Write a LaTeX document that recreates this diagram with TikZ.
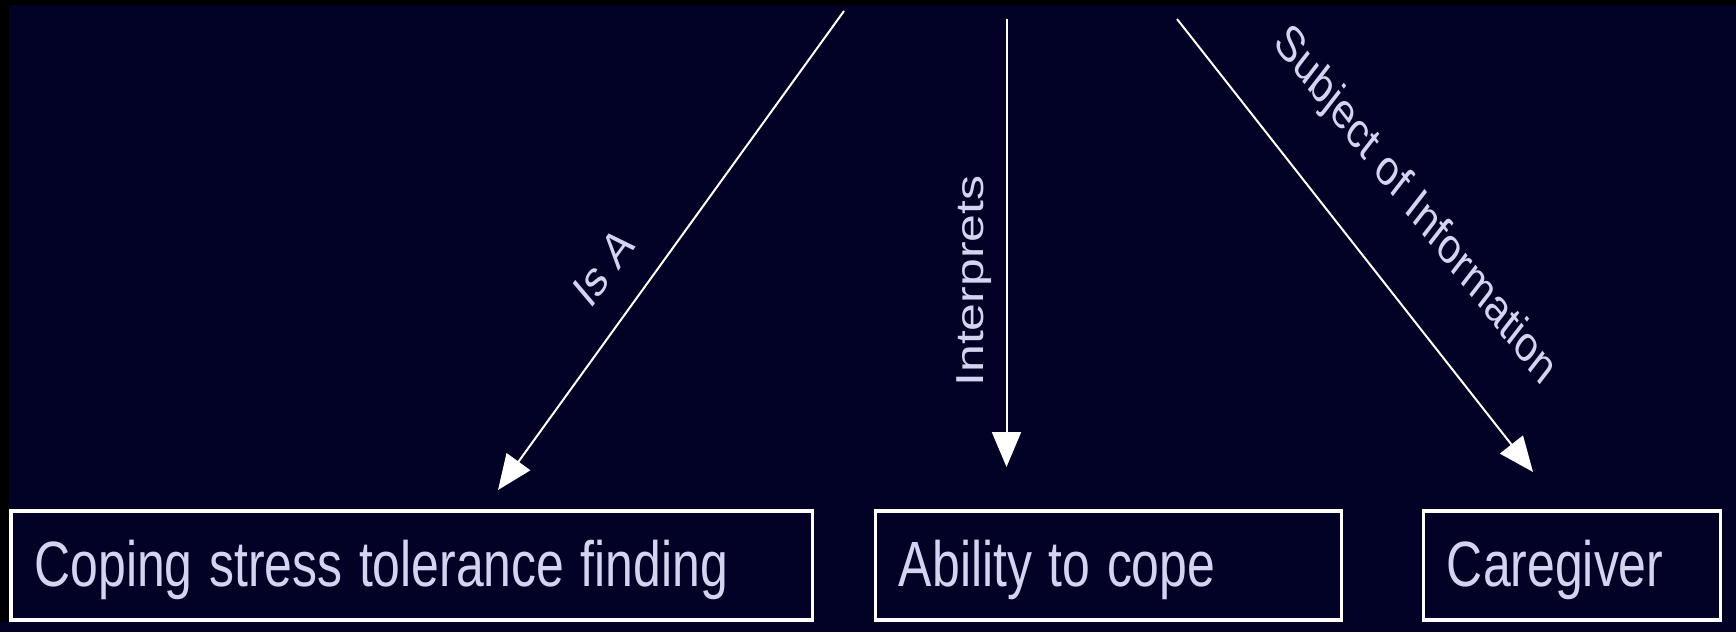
\documentclass[tikz,border=0pt]{standalone}
\usepackage{fontspec}
\setmainfont{Liberation Sans}
\usetikzlibrary{arrows.meta}
\definecolor{navy}{RGB}{2,1,38}
\definecolor{lav}{RGB}{212,212,240}
\begin{document}
\begin{tikzpicture}[x={(1.282051pt,0)}, y={(0,-1pt)}, xscale=0.78,
  every node/.style={transform shape},
  box/.style={draw=white, line width=3.6pt, outer sep=0pt, inner xsep=30.1pt, inner ysep=0pt,
    minimum height=109pt, anchor=north west, align=left, text height=50pt, text depth=8pt,
    text=lav, font=\fontsize{64}{70}\selectfont},
  lbl/.style={text=lav, font=\fontsize{50}{56}\selectfont, inner sep=0pt, anchor=base},
  conn/.style={draw=white, line width=2pt, -{Triangle[length=35pt,width=29pt]}}]
  % background and frame strips
  \path[use as bounding box, fill=navy] (0,0) rectangle (1736,632);
  \fill[black] (0,0) rectangle (1736,5);
  \fill[black] (0,0) rectangle (9,622);
  % boxes
  \node[box, text width=967.4pt] (b1) at (11,511) {Coping stress tolerance finding};
  \node[box, text width=537.2pt] (b2) at (875.5,511) {Ability to cope};
  \node[box, text width=320.6pt] (b3) at (1423.5,511) {Caregiver};
  % connector ends
  \coordinate (s1) at (844,11);
  \coordinate (t1) at (498,490);
  \coordinate (s2) at (1006.5,19);
  \coordinate (t2) at (1006.5,467);
  \coordinate (s3) at (1177,19);
  \coordinate (t3) at (1533,472);
  % connectors with labels
  \draw[conn] (s1) -- (t1) node[lbl, rotate=47.2, at={(613,279)}] (l1) {Is A};
  \draw[conn] (s2) -- (t2) node[lbl, rotate=90, at={(983,281)}] (l2) {Interprets};
  \draw[conn] (s3) -- (t3) node[lbl, rotate=-44.8, at={(1407.5,215.5)}] (l3) {Subject of Information};
\end{tikzpicture}
\end{document}
